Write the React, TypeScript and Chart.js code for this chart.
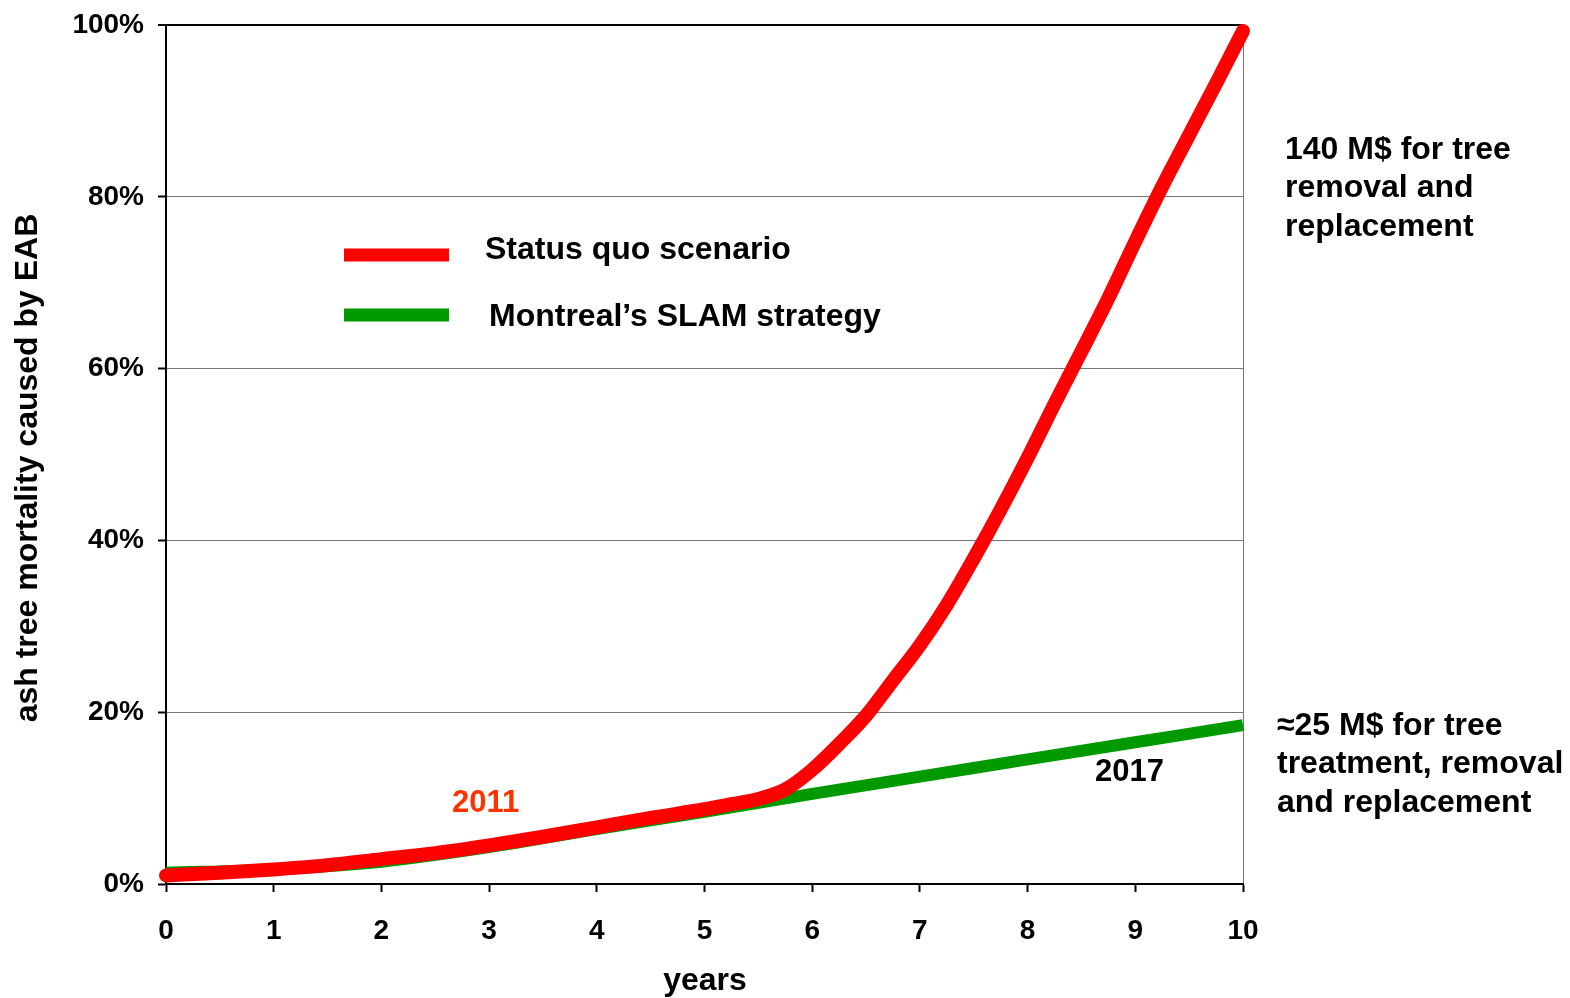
import React, { useEffect, useRef } from "react";
import { Chart, registerables } from "chart.js";

Chart.register(...registerables);

const years = [0, 0.5, 1, 1.5, 2, 2.5, 3, 3.5, 4, 4.5, 5, 5.25, 5.5, 5.75, 6, 6.25, 6.5, 6.75, 7, 7.25, 7.5, 7.75, 8, 8.25, 8.5, 8.75, 9, 9.25, 9.5, 9.75, 10];
const statusQuo = [1.0, 1.3, 1.7, 2.2, 2.9, 3.6, 4.5, 5.5, 6.6, 7.7, 8.7, 9.3, 9.9, 11.0, 13.3, 16.3, 19.6, 23.7, 27.8, 32.5, 37.9, 43.6, 49.6, 55.9, 62.0, 68.2, 74.8, 81.2, 87.2, 93.2, 99.3];

const slamYears = [0, 1, 2, 3, 4, 5, 6, 7, 8, 9, 10, 10.07];
const slam = [1.3, 1.7, 2.6, 4.3, 6.4, 8.4, 10.5, 12.5, 14.5, 16.5, 18.5, 18.65];

const xTicks = [0, 1, 2, 3, 4, 5, 6, 7, 8, 9, 10];
const yTicks = [0, 20, 40, 60, 80, 100];

const legendLabels = ["Status quo scenario", "Montreal\u2019s SLAM strategy"];
const noteTop = ["140 M$ for tree", "removal and", "replacement"];
const noteBottom = ["\u224825 M$ for tree", "treatment, removal", "and replacement"];
const yTitle = "ash tree mortality caused by EAB";
const xTitle = "years";

const FONT = "'Liberation Sans', Arial, sans-serif";
const RED = "#ff0000";
const GREEN = "#009900";

const overlay = {
  id: "overlay",
  afterDraw(chart: any) {
    const ctx = chart.ctx;
    ctx.save();
    ctx.textBaseline = "middle";
    ctx.textAlign = "left";
    ctx.fillStyle = "#000";
    ctx.font = `bold 32px ${FONT}`;

    // legend
    ctx.lineCap = "butt";
    ctx.lineWidth = 13;
    ctx.strokeStyle = RED;
    ctx.beginPath();
    ctx.moveTo(344, 255);
    ctx.lineTo(449, 255);
    ctx.stroke();
    ctx.strokeStyle = GREEN;
    ctx.beginPath();
    ctx.moveTo(344, 315);
    ctx.lineTo(449, 315);
    ctx.stroke();
    ctx.fillText(legendLabels[0], 485, 250);
    ctx.fillText(legendLabels[1], 489, 317);

    // right notes
    noteTop.forEach((t, i) => ctx.fillText(t, 1285, 150 + i * 38.5));
    noteBottom.forEach((t, i) => ctx.fillText(t, 1277, 726 + i * 38.5));

    // year labels
    ctx.font = `bold 31px ${FONT}`;
    ctx.fillStyle = "#ff3300";
    ctx.fillText("2011", 452, 803);
    ctx.fillStyle = "#000";
    ctx.fillText("2017", 1095, 772);

    // axis titles
    ctx.font = `bold 32px ${FONT}`;
    ctx.textAlign = "center";
    ctx.fillText(xTitle, 705, 981);
    ctx.translate(28, 468);
    ctx.rotate(-Math.PI / 2);
    ctx.fillText(yTitle, 0, 0);
    ctx.restore();
  },
};

export default function App() {
  const ref = useRef<HTMLCanvasElement>(null);
  useEffect(() => {
    if (!ref.current) return;
    const chart = new Chart(ref.current, {
      type: "line",
      data: {
        datasets: [
          {
            label: legendLabels[0],
            data: years.map((x, i) => ({ x, y: statusQuo[i] })),
            borderColor: RED,
            backgroundColor: RED,
            borderWidth: 14,
            pointRadius: 0,
            cubicInterpolationMode: "monotone",
            borderCapStyle: "round",
            borderJoinStyle: "round",
            clip: false as any,
          },
          {
            label: legendLabels[1],
            data: slamYears.map((x, i) => ({ x, y: slam[i] })),
            borderColor: GREEN,
            backgroundColor: GREEN,
            borderWidth: 12,
            pointRadius: 0,
            cubicInterpolationMode: "monotone",
            borderCapStyle: "butt",
            clip: false as any,
          },
        ],
      },
      options: {
        responsive: false,
        animation: false,
        devicePixelRatio: 1,
        layout: { padding: { left: 0, top: 25, right: 327, bottom: 0 } },
        plugins: { legend: { display: false }, tooltip: { enabled: false } },
        scales: {
          x: {
            type: "linear",
            min: 0,
            max: 10,
            afterFit: (s: any) => {
              s.height = 114;
              s.paddingLeft = 0;
              s.paddingRight = 0;
              s.paddingTop = 0;
              s.paddingBottom = 0;
            },
            afterBuildTicks: (s: any) => {
              s.ticks = xTicks.map((v) => ({ value: v }));
            },
            ticks: {
              color: "#000",
              font: { family: FONT, size: 28, weight: "bold" },
              padding: 22,
              maxRotation: 0,
              autoSkip: false,
            },
            grid: {
              drawOnChartArea: true,
              color: (c: any) => (c.tick && c.tick.value === 10 ? "#777" : "rgba(0,0,0,0)"),
              lineWidth: 1,
              tickColor: "#000",
              tickWidth: 2,
              tickLength: 8,
            },
            border: { color: "#000", width: 2 },
          },
          y: {
            type: "linear",
            min: 0,
            max: 100,
            afterFit: (s: any) => {
              s.width = 166;
              s.paddingLeft = 0;
              s.paddingRight = 0;
              s.paddingTop = 0;
              s.paddingBottom = 0;
            },
            afterBuildTicks: (s: any) => {
              s.ticks = yTicks.map((v) => ({ value: v }));
            },
            ticks: {
              color: "#000",
              font: { family: FONT, size: 28, weight: "bold" },
              padding: 14,
              callback: (v: any) => v + "%",
            },
            grid: {
              color: (c: any) => (c.tick && c.tick.value === 100 ? "#000" : "#777"),
              lineWidth: (c: any) => (c.tick && c.tick.value === 100 ? 2 : 1),
              tickColor: "#000",
              tickWidth: 2,
              tickLength: 8,
            },
            border: { color: "#000", width: 2 },
          },
        },
      },
      plugins: [overlay],
    });
    return () => chart.destroy();
  }, []);
  return (
    <div style={{ position: "absolute", left: 0, top: 0, width: 1570, height: 998, background: "#fff" }}>
      <canvas ref={ref} width={1570} height={998} style={{ display: "block" }} />
    </div>
  );
}
